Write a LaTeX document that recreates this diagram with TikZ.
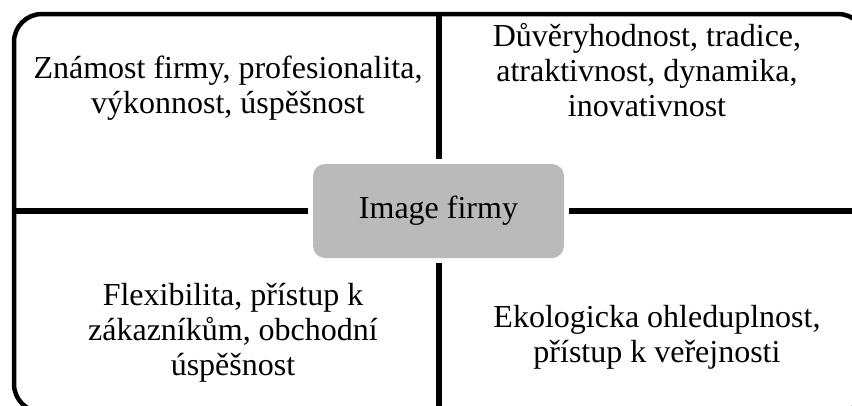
\documentclass[tikz,border=0pt]{standalone}
\usepackage{fontspec}
\setmainfont{Liberation Serif}
\begin{document}
\begin{tikzpicture}[x=1pt,y=-1pt,
  frame/.style={line width=4.5pt,rounded corners=28pt},
  divider/.style={line width=5.5pt},
  quad/.style={align=center,font=\fontsize{32}{35}\selectfont,inner sep=0pt},
  core/.style={fill=black!27,rounded corners=12pt,minimum width=251pt,minimum height=94pt,
    inner sep=0pt,font=\fontsize{32}{35}\selectfont}
]
\useasboundingbox (0,0) rectangle (852,405);
\begin{scope}
  \clip (0,0) rectangle (852,405);
  % outer rounded frame (runs past the page on the right and bottom)
  \draw[frame] (14,14) rectangle (866,412);
  % frame points where the dividers meet it
  \coordinate (ftop) at (439,14);
  \coordinate (fbot) at (439,412);
  \coordinate (fleft) at (14,211);
  \coordinate (fright) at (866,211);
  % central node
  \node[core] (img) at (438.5,211) {Image firmy};
  % dividers, stopping short of the central node
  \draw[divider,shorten >=5pt] (ftop) -- (img.north -| ftop);
  \draw[divider,shorten >=5pt] (fbot) -- (img.south -| fbot);
  \draw[divider,shorten >=5pt] (fleft) -- (img.west |- fleft);
  \draw[divider,shorten >=5pt] (fright) -- (img.east |- fright);
\end{scope}
% quadrant texts
\node[quad] (tl) at (228,88) {Známost firmy, profesionalita,\\výkonnost, úspěšnost};
\node[quad] (tr) at (647,70) {Důvěryhodnost, tradice,\\atraktivnost, dynamika,\\inovativnost};
\node[quad] (bl) at (233,333) {Flexibilita, přístup k\\zákazníkům, obchodní\\úspěšnost};
\node[quad] (br) at (657,337) {Ekologicka ohleduplnost,\\přístup k veřejnosti};
\end{tikzpicture}
\end{document}
